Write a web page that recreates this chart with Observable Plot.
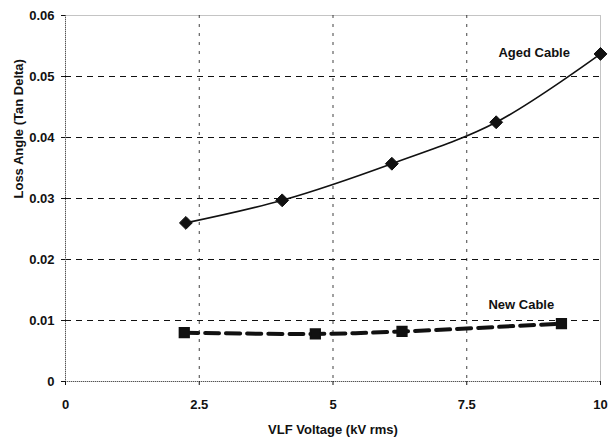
<!DOCTYPE html>
<html>
<head>
<meta charset="utf-8">
<script src="https://cdn.jsdelivr.net/npm/d3@7"></script>
<script src="https://cdn.jsdelivr.net/npm/@observablehq/plot@0.6"></script>
<style>
  html, body { margin: 0; padding: 0; background: #fff; }
  #chart { width: 608px; height: 444px; }
  svg { font-family: "Liberation Sans", Arial, sans-serif; }
</style>
</head>
<body>
<div id="chart"></div>
<script>
// Data
const agedVoltage = [2.25, 4.05, 6.1, 8.05, 10];
const agedTanDelta = [0.0260, 0.0297, 0.0357, 0.0425, 0.0537];
const newVoltage = [2.22, 4.67, 6.29, 9.27];
const newTanDelta = [0.0080, 0.0078, 0.0082, 0.0095];
const xTicks = [0, 2.5, 5, 7.5, 10];
const yTicks = [0, 0.01, 0.02, 0.03, 0.04, 0.05, 0.06];
const xGrid = [2.5, 5, 7.5];
const yGrid = [0.01, 0.02, 0.03, 0.04, 0.05];
const seriesLabels = [
  {name: "Aged Cable", x: 8.76, y: 0.0539},
  {name: "New Cable", x: 8.52, y: 0.0126}
];
const xTitle = "VLF Voltage (kV rms)";
const yTitle = "Loss Angle (Tan Delta)";

const aged = agedVoltage.map((v, i) => ({x: v, y: agedTanDelta[i]}));
const fresh = newVoltage.map((v, i) => ({x: v, y: newTanDelta[i]}));

const ink = "#111";

const chart = Plot.plot({
  width: 608,
  height: 444,
  marginLeft: 65,
  marginRight: 8,
  marginTop: 15,
  marginBottom: 63,
  style: {fontFamily: "'Liberation Sans', Arial, sans-serif", fontSize: "13px", fontWeight: "bold", color: ink, background: "#fff"},
  x: {domain: [0, 10]},
  y: {domain: [0, 0.06]},
  marks: [
    Plot.frame({stroke: "#888", strokeDasharray: "1,1", strokeWidth: 1}),
    Plot.ruleY(yGrid, {stroke: ink, strokeWidth: 1, strokeDasharray: "6,5"}),
    Plot.ruleX(xGrid, {stroke: ink, strokeWidth: 1, strokeDasharray: "3,6", strokeOpacity: 0.8}),
    Plot.ruleX([0], {stroke: "#555", strokeDasharray: "1,1"}),
    Plot.ruleY([0], {stroke: "#555", strokeDasharray: "1,1"}),
    Plot.axisX({ticks: xTicks, tickFormat: d => String(d), tickSize: 4, tickPadding: 14, fontWeight: "bold", fontSize: 13, label: null, stroke: ink}),
    Plot.axisY({ticks: yTicks, tickFormat: d => String(+d.toFixed(2)), tickSize: 4, tickPadding: 7, fontWeight: "bold", fontSize: 13, label: null, stroke: ink}),
    Plot.text([xTitle], {frameAnchor: "bottom", dy: 52, text: d => d, fontSize: 13, fontWeight: "bold", fill: ink}),
    Plot.text([yTitle], {frameAnchor: "left", dx: -47, rotate: -90, text: d => d, fontSize: 13, fontWeight: "bold", fill: ink}),
    Plot.line(aged, {x: "x", y: "y", curve: "catmull-rom", stroke: ink, strokeWidth: 1.6}),
    Plot.dot(aged, {x: "x", y: "y", symbol: "diamond2", r: 5.8, fill: ink, stroke: ink, strokeWidth: 1}),
    Plot.line(fresh, {x: "x", y: "y", curve: "catmull-rom", stroke: ink, strokeWidth: 4, strokeDasharray: "14,7"}),
    Plot.dot(fresh, {x: "x", y: "y", symbol: "square", r: 5.5, fill: ink, stroke: ink}),
    Plot.text(seriesLabels, {x: "x", y: "y", text: "name", fontSize: 13, fontWeight: "bold", fill: ink})
  ]
});
document.getElementById("chart").appendChild(chart);
</script>
</body>
</html>
